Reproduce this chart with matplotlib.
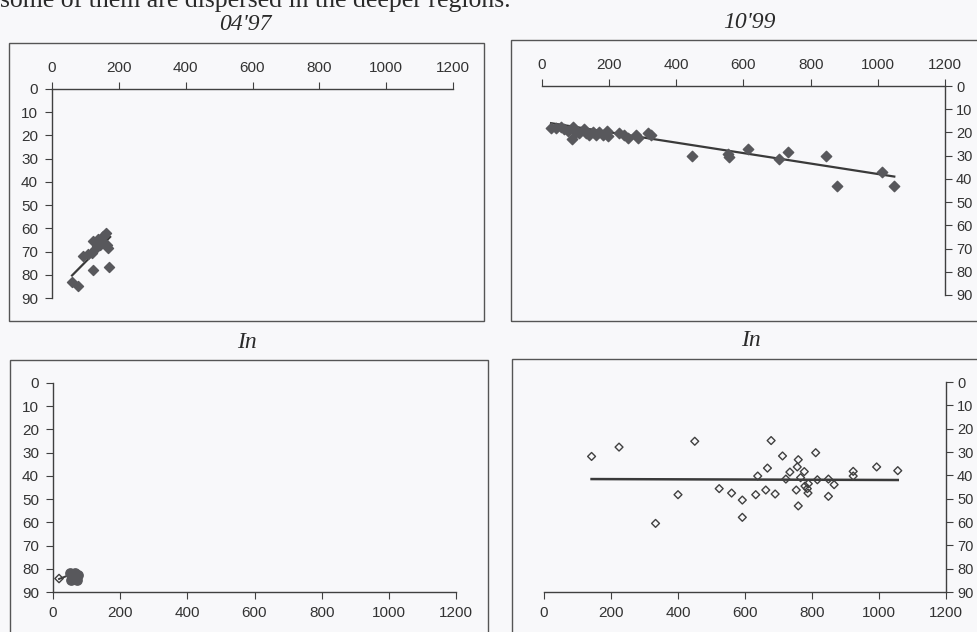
import matplotlib
matplotlib.use("Agg")
import matplotlib.pyplot as plt
from matplotlib.patches import Rectangle

# --- data (distance, depth) ---
# 04'97
apr97_x = [60, 77, 122, 172, 93, 107, 119, 129, 124, 139, 144, 154, 162, 166, 169, 149, 134]
apr97_y = [83, 85, 77.8, 76.8, 72, 71, 70.6, 69, 65.6, 64.6, 67, 63.4, 62, 67, 68.6, 65.6, 67.8]
apr97_fit_x = [60, 174]
apr97_fit_y = [80.3, 63.7]

# 10'99
oct99_x = [27, 42, 56, 66, 76, 91, 89, 101, 111, 126, 131, 141, 151, 161, 171, 181, 195, 198,
           230, 245, 255, 280, 285, 315, 325, 447, 553, 556, 612, 707, 733, 846, 879, 1012, 1049]
oct99_y = [17.9, 18.2, 17.5, 18.7, 19.3, 17.5, 23, 19.7, 20.4, 18.7, 20.4, 21, 20, 21, 19.7, 21,
           19.2, 21.5, 20.4, 21, 22.5, 21, 22.2, 20.4, 21, 30.1, 29.3, 30.4, 27.1, 31.6, 28.6,
           30.1, 42.9, 36.9, 42.9]
oct99_fit_x = [27, 1049]
oct99_fit_y = [16.0, 39.0]

# In (left)
in_l_x = [50, 60, 70, 74, 55, 65, 68]
in_l_y = [82, 83.5, 85, 82.8, 84.9, 81.8, 84]
in_l_open_x = [18]
in_l_open_y = [84.2]
in_l_fit_x = [18, 50]
in_l_fit_y = [84.4, 82.6]

# In (right)
in_r_x = [142, 224, 450, 333, 400, 523, 560, 592, 592, 632, 638, 662, 667, 678, 690, 712, 722,
          734, 753, 756, 759, 759, 766, 777, 779, 786, 789, 788, 811, 816, 849, 849, 866, 923,
          923, 993, 1056]
in_r_y = [31.9, 27.9, 25.4, 60.6, 48.3, 45.7, 47.6, 50.6, 58, 48.3, 40.3, 46.3, 36.9, 25.1, 48,
          31.7, 41.6, 38.6, 46.3, 36.4, 33.3, 53.1, 41, 38.4, 44.6, 45.7, 43.6, 47.6, 30.3, 41.9,
          41.6, 49, 44, 38.3, 40.3, 36.4, 38]
in_r_fit_x = [142, 1056]
in_r_fit_y = [41.6, 42.0]

x_ticks = [0, 200, 400, 600, 800, 1000, 1200]
y_ticks = [0, 10, 20, 30, 40, 50, 60, 70, 80, 90]

W, H = 978, 632
bg = "#f8f8fa"
ink = "#404040"
mark = "#58585c"

fig = plt.figure(figsize=(W / 100, H / 100), dpi=100, facecolor=bg)
serif = ["Liberation Serif", "DejaVu Serif"]
sans = ["Liberation Sans", "DejaVu Sans"]


def box(x0, y0, x1, y1):
    fig.patches.append(Rectangle((x0 / W, 1 - y1 / H), (x1 - x0) / W, (y1 - y0) / H,
                                 transform=fig.transFigure, fill=False,
                                 edgecolor="#555555", lw=1.0))


def panel(x0, y0, x1, y1, xside, yside):
    ax = fig.add_axes([x0 / W, 1 - y1 / H, (x1 - x0) / W, (y1 - y0) / H])
    ax.set_facecolor("none")
    ax.set_xlim(0, 1200)
    ax.set_ylim(90, 0)
    for s in ax.spines.values():
        s.set_visible(False)
    for s in (xside, yside):
        ax.spines[s].set_visible(True)
        ax.spines[s].set_color(ink)
        ax.spines[s].set_linewidth(1.0)
    ax.set_xticks(x_ticks)
    ax.set_yticks(y_ticks)
    if xside == "top":
        ax.xaxis.tick_top()
    else:
        ax.xaxis.tick_bottom()
    if yside == "right":
        ax.yaxis.tick_right()
    else:
        ax.yaxis.tick_left()
    ax.tick_params(direction="out", length=5, width=0.8, color=ink, labelcolor="#333333",
                   labelsize=11, pad=5)
    ax.tick_params(axis="y", pad=3 if yside == "right" else 5,
                   labelsize=10.5 if yside == "right" else 11)
    for lab in ax.get_xticklabels() + ax.get_yticklabels():
        lab.set_family(sans)
    return ax


# scanned text line cut at the top of the page
fig.text(0.0, 1 - 7 / H, "some of them are dispersed in the deeper regions.",
         family=serif, fontsize=18.5, color="#2a2a2a", va="baseline", ha="left")

# outer chart boxes
box(9, 43, 484, 321)
box(511, 40, W + 5, 321)
box(10, 360, 488, H + 5)
box(512, 359, W + 5, H + 5)

# titles
for tx, ty, t in [(245, 25, "04'97"), (749, 22, "10'99"), (247, 342, "In"), (751, 341, "In")]:
    fig.text(tx / W, 1 - ty / H, t, family=serif, style="italic", fontsize=17,
             color="#2a2a2a", ha="center", va="center")

ax1 = panel(52, 89, 453, 298, "top", "left")
ax1.plot(apr97_fit_x, apr97_fit_y, color="#3a3a3a", lw=1.6, zorder=2)
ax1.scatter(apr97_x, apr97_y, marker="D", s=26, color=mark, zorder=3, clip_on=False)

ax2 = panel(542, 86, 945, 295, "top", "right")
ax2.plot(oct99_fit_x, oct99_fit_y, color="#3a3a3a", lw=1.6, zorder=2)
ax2.scatter(oct99_x, oct99_y, marker="D", s=28, color=mark, zorder=3, clip_on=False)

ax3 = panel(53, 383, 456, 592, "bottom", "left")
ax3.plot(in_l_fit_x, in_l_fit_y, color="#3a3a3a", lw=1.4, zorder=2)
ax3.scatter(in_l_x, in_l_y, marker="o", s=45, color=mark, zorder=3, clip_on=False)
ax3.scatter(in_l_open_x, in_l_open_y, marker="D", s=18, facecolor="none", edgecolor=ink,
            lw=1.0, zorder=3, clip_on=False)

ax4 = panel(544, 382, 946, 592, "bottom", "right")
ax4.plot(in_r_fit_x, in_r_fit_y, color="#3a3a3a", lw=1.8, zorder=2)
ax4.scatter(in_r_x, in_r_y, marker="D", s=16, facecolor="none", edgecolor=ink,
            lw=1.0, zorder=3, clip_on=False)

fig.savefig("out.png", dpi=100, facecolor=bg)
